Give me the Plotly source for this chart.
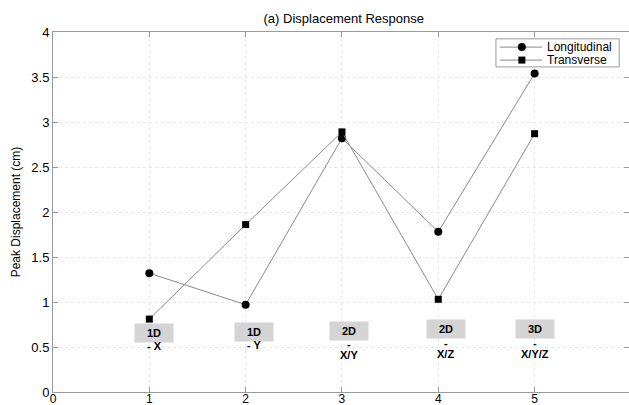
import plotly.graph_objects as go

# Load case index (1..5) and peak displacement per direction, in cm
cases = [1, 2, 3, 4, 5]
longitudinal = [1.32, 0.97, 2.82, 1.78, 3.54]
transverse = [0.81, 1.86, 2.89, 1.03, 2.87]
series_names = ["Longitudinal", "Transverse"]

# Excitation tags shown beneath each case
case_dims = ["1D", "1D", "2D", "2D", "3D"]
case_dirs = [["- X"], ["- Y"], ["-", "X/Y"], ["-", "X/Z"], ["-", "X/Y/Z"]]
tag_x = [1.05, 2.09, 3.07, 4.08, 5.0]
tag_y = [0.661, 0.67, 0.68, 0.697, 0.70]

FONT = "Arial, Liberation Sans, Helvetica, sans-serif"
LINE_GRAY = "#8a8a8a"
AXIS_GRAY = "#9a9a9a"
PX_PER_UNIT = 90.0  # vertical pixels per cm on the y axis

fig = go.Figure()
fig.add_trace(go.Scatter(
    x=cases, y=longitudinal, name=series_names[0], mode="lines+markers",
    line=dict(color=LINE_GRAY, width=1),
    marker=dict(symbol="circle", size=8, color="black"),
    showlegend=False,
))
fig.add_trace(go.Scatter(
    x=cases, y=transverse, name=series_names[1], mode="lines+markers",
    line=dict(color=LINE_GRAY, width=1),
    marker=dict(symbol="square", size=7, color="black"),
    showlegend=False,
))

line_offsets_px = [13.5, 24.5]
for xi, yi, dim, lines in zip(tag_x, tag_y, case_dims, case_dirs):
    fig.add_annotation(
        x=xi, y=yi, xref="x", yref="y", text="<b>%s</b>" % dim,
        showarrow=False, bgcolor="#d4d4d4", width=36, height=16,
        font=dict(family=FONT, size=11, color="black"),
    )
    for off, txt in zip(line_offsets_px, lines):
        fig.add_annotation(
            x=xi, y=yi - off / PX_PER_UNIT, xref="x", yref="y",
            text="<b>%s</b>" % txt, showarrow=False, yanchor="middle",
            font=dict(family=FONT, size=11, color="black"),
        )

# Compact boxed key in the upper-right corner (paper coordinates)
key_x0, key_x1 = 0.769, 0.983
key_y0, key_y1 = 0.903, 0.981
fig.add_shape(type="rect", xref="paper", yref="paper",
              x0=key_x0, x1=key_x1, y0=key_y0, y1=key_y1,
              line=dict(color=AXIS_GRAY, width=1), fillcolor="white", layer="above")
key_rows = [0.958, 0.922]
key_symbols = ["circle", "rect"]
for ry, sym, name in zip(key_rows, key_symbols, series_names):
    fig.add_shape(type="line", xref="paper", yref="paper",
                  x0=0.776, x1=0.849, y0=ry, y1=ry,
                  line=dict(color=LINE_GRAY, width=1), layer="above")
    half = 4 if sym == "circle" else 3.5
    fig.add_shape(type="circle" if sym == "circle" else "rect",
                  xref="paper", yref="paper",
                  xsizemode="pixel", ysizemode="pixel",
                  xanchor=0.814, yanchor=ry,
                  x0=-half, x1=half, y0=-half, y1=half,
                  line=dict(color="black", width=0), fillcolor="black", layer="above")
    fig.add_annotation(x=0.854, y=ry, xref="paper", yref="paper",
                       text=name, showarrow=False, xanchor="left", yanchor="middle",
                       font=dict(family=FONT, size=12, color="black"))

axis_common = dict(
    showline=True, linecolor=AXIS_GRAY, linewidth=1, mirror="ticks",
    ticks="inside", ticklen=5, tickcolor=AXIS_GRAY,
    showgrid=True, gridcolor="#e8e8e8", griddash="dot", gridwidth=1,
    zeroline=False, automargin=False,
)

fig.update_layout(
    width=629, height=405,
    margin=dict(l=53, r=0, t=32, b=13),
    paper_bgcolor="white", plot_bgcolor="white",
    title=dict(text="(a) Displacement Response", x=0.5465, xanchor="center",
               y=0.955, yanchor="middle",
               font=dict(family=FONT, size=13, color="black")),
    xaxis=dict(range=[0, 5.98], tickvals=[0, 1, 2, 3, 4, 5],
               ticklabelstandoff=-4,
               tickfont=dict(family=FONT, size=12, color="black"),
               **axis_common),
    yaxis=dict(range=[0, 4], tickvals=[0, 0.5, 1, 1.5, 2, 2.5, 3, 3.5, 4],
               ticktext=["0", "0.5", "1", "1.5", "2", "2.5", "3", "3.5", "4"],
               tickfont=dict(family=FONT, size=13, color="black"),
               title=dict(text="Peak Displacement (cm)", standoff=8,
                          font=dict(family=FONT, size=12, color="black")),
               **axis_common),
    showlegend=False,
)

fig.write_html("out.html")
